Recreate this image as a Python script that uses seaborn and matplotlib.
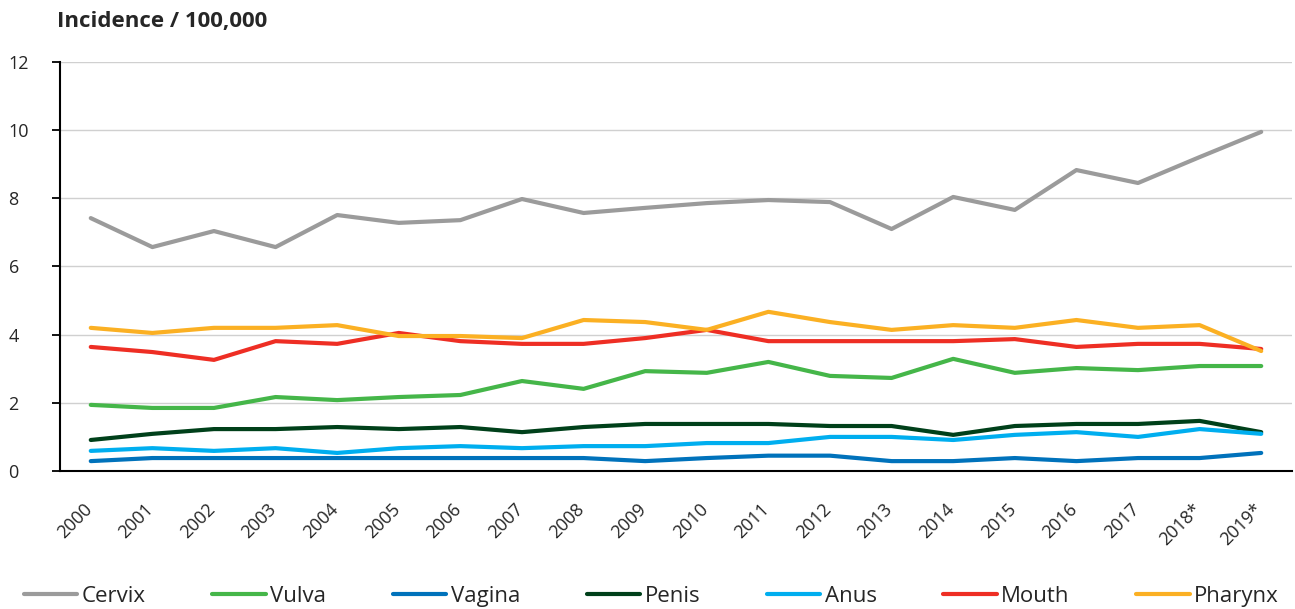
import numpy as np
import pandas as pd
import seaborn as sns
import matplotlib.pyplot as plt
import matplotlib.transforms as mtransforms

# Datos
years = ["2000", "2001", "2002", "2003", "2004", "2005", "2006", "2007", "2008", "2009",
         "2010", "2011", "2012", "2013", "2014", "2015", "2016", "2017", "2018*", "2019*"]
cervix = [7.42, 6.57, 7.04, 6.57, 7.51, 7.28, 7.36, 7.98, 7.57, 7.72,
          7.86, 7.95, 7.89, 7.10, 8.04, 7.66, 8.83, 8.45, 9.21, 9.95]
vulva = [1.94, 1.85, 1.85, 2.17, 2.08, 2.17, 2.23, 2.64, 2.41, 2.93,
         2.88, 3.20, 2.79, 2.73, 3.29, 2.88, 3.02, 2.96, 3.08, 3.08]
vagina = [0.29, 0.38, 0.38, 0.38, 0.38, 0.38, 0.38, 0.38, 0.38, 0.29,
          0.38, 0.45, 0.45, 0.29, 0.29, 0.38, 0.29, 0.38, 0.38, 0.53]
penis = [0.91, 1.09, 1.23, 1.23, 1.29, 1.23, 1.29, 1.14, 1.29, 1.38,
         1.38, 1.38, 1.32, 1.32, 1.06, 1.32, 1.38, 1.38, 1.47, 1.14]
anus = [0.59, 0.67, 0.59, 0.67, 0.53, 0.67, 0.73, 0.67, 0.73, 0.73,
        0.82, 0.82, 1.00, 1.00, 0.91, 1.06, 1.14, 1.00, 1.23, 1.09]
mouth = [3.64, 3.49, 3.26, 3.81, 3.73, 4.05, 3.81, 3.73, 3.73, 3.90,
         4.14, 3.81, 3.81, 3.81, 3.81, 3.87, 3.64, 3.73, 3.73, 3.58]
pharynx = [4.20, 4.05, 4.20, 4.20, 4.28, 3.96, 3.96, 3.90, 4.43, 4.37,
           4.14, 4.67, 4.37, 4.14, 4.28, 4.20, 4.43, 4.20, 4.28, 3.52]

series = {"Cervix": cervix, "Vulva": vulva, "Vagina": vagina, "Penis": penis,
          "Anus": anus, "Mouth": mouth, "Pharynx": pharynx}
colors = ["#9B9B9B", "#45B649", "#0072BB", "#00401A", "#00AEEF", "#EE2E24", "#FBB023"]

df = pd.DataFrame(series)
df["pos"] = np.arange(len(years))
long = df.melt(id_vars="pos", var_name="site", value_name="incidence")

sns.set_style("white")
plt.rcParams["font.family"] = ["Open Sans", "DejaVu Sans"]

fig = plt.figure(figsize=(12.95, 6.09), dpi=100)
ax = fig.add_axes([0.0463, 0.2266, 0.9514, 0.6716])

sns.lineplot(data=long, x="pos", y="incidence", hue="site", palette=colors,
             linewidth=3, ax=ax, legend=True)

ax.set_xlim(-0.5, len(years) - 0.5)
ax.set_ylim(0, 12)
ax.set_yticks(range(0, 13, 2))
ax.set_yticklabels([str(v) for v in range(0, 13, 2)], fontsize=13, ha="left")
ax.yaxis.grid(True, color="#D0D0D0", lw=1)
ax.set_axisbelow(True)

# Etiquetas de categoría centradas, marcas en los bordes
ax.set_xticks(np.arange(len(years)))
ax.set_xticklabels(years, rotation=45, ha="right", rotation_mode="anchor", fontsize=13)
ax.set_xticks(np.arange(len(years) + 1) - 0.5, minor=True)
ax.tick_params(axis="x", which="major", length=0, pad=21)
ax.tick_params(axis="x", which="minor", length=6, width=1.3, color="black", direction="out")
ax.tick_params(axis="y", length=6, width=1.3, color="black", direction="out", left=True, pad=31)
shift = mtransforms.ScaledTranslation(-8 / 100, 0, fig.dpi_scale_trans)
for lbl in ax.get_xticklabels():
    lbl.set_transform(lbl.get_transform() + shift)

ax.set_xlabel("")
ax.set_ylabel("")
for s in ["top", "right"]:
    ax.spines[s].set_visible(False)
ax.spines["left"].set_color("black")
ax.spines["bottom"].set_color("black")
ax.spines["left"].set_linewidth(1.5)
ax.spines["bottom"].set_linewidth(1.5)

fig.text(0.044, 0.965, "Incidence / 100,000", fontsize=16, fontweight="bold", va="center")

handles, labels = ax.get_legend_handles_labels()
ax.legend_.remove()
fig.legend(handles, labels, loc="lower center", bbox_to_anchor=(0.503, -0.03), ncol=7,
           frameon=False, fontsize=16, handlelength=2.4, handletextpad=0.2,
           columnspacing=3.0)

plt.savefig("out.png", dpi=100)
